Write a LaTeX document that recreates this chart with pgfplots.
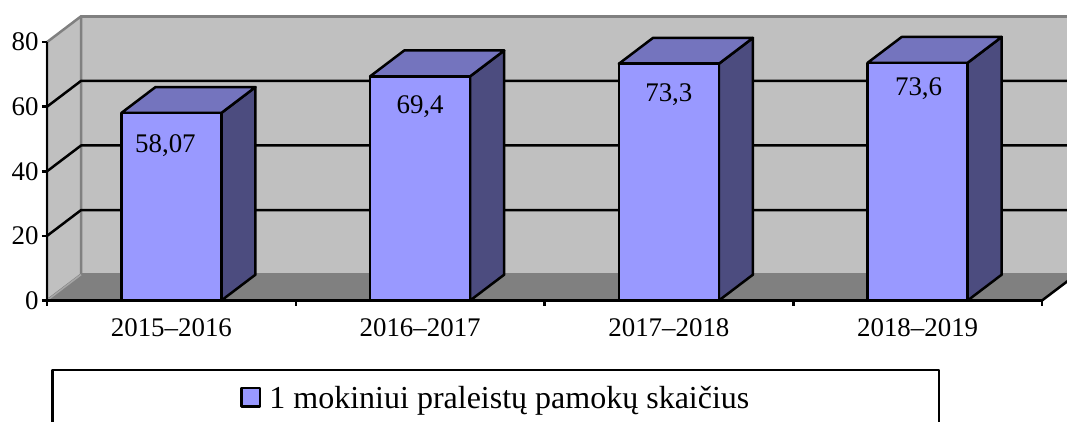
\documentclass[border=0pt]{standalone}
\usepackage{fontspec}
\setmainfont{Liberation Serif}
\usepackage{pgfplots}
\pgfplotsset{compat=1.18}

\definecolor{wall}{HTML}{C0C0C0}
\definecolor{floorc}{HTML}{808080}
\definecolor{edge}{HTML}{808080}
\definecolor{barfront}{HTML}{9999FF}
\definecolor{bartop}{HTML}{7474BE}
\definecolor{barside}{HTML}{4C4C7F}

\begin{document}
\begin{tikzpicture}[line join=round]
\begin{axis}[
    at={(47pt,120.5pt)}, anchor=south west,
    scale only axis, width=995pt, height=258.4pt,
    xmin=-0.5, xmax=3.5, ymin=0, ymax=80,
    clip=false, axis on top,
    axis x line=bottom, axis y line=left,
    axis line style={-, line width=2.5pt, black},
    tick style={line width=2.5pt, black},
    tick align=outside, major tick length=5pt,
    xtick={-0.5,0.5,1.5,2.5,3.5}, xticklabels={},
    extra x ticks={0,1,2,3},
    extra x tick labels={2015--2016,2016--2017,2017--2018,2018--2019},
    extra x tick style={major tick length=0pt, tick label style={yshift=-15pt}},
    ytick={0,20,40,60,80},
    /pgf/number format/assume math mode=true,
    tick label style={font=\fontsize{26.9}{30}\selectfont},
    legend style={at={(axis cs:-0.482,-21.2)}, anchor=north west,
        draw=black, line width=2.5pt, inner xsep=187.5pt, inner ysep=14pt,
        font=\fontsize{32}{35}\selectfont},
    legend image code/.code={
        \draw[fill=barfront, draw=black, line width=2.5pt] (0pt,-8.5pt) rectangle (18.5pt,10pt);
        \path[draw=none, fill=none] (0pt,0pt) -- (26pt,0pt);
    },
]
% walls and floor
\addplot[fill=wall, draw=edge, line width=2.5pt, forget plot] coordinates {(-0.363,8)(3.637,8)(3.637,88)(-0.363,88)} -- cycle;
\addplot[fill=wall, draw=edge, line width=2.5pt, forget plot] coordinates {(-0.5,0)(-0.363,8)(-0.363,88)(-0.5,80)} -- cycle;
\addplot[fill=floorc, draw=none, forget plot] coordinates {(-0.5,0)(3.5,0)(3.637,8)(-0.363,8)} -- cycle;
\addplot[draw=black!35, line width=1.5pt, forget plot] coordinates {(-0.5,0)(-0.363,8)};
\addplot[draw=black, line width=2.5pt, forget plot] coordinates {(3.5,0)(3.637,8)};
% gridlines
\addplot[draw=black, line width=2.5pt, forget plot] coordinates {(-0.5,20)(-0.363,28)(3.637,28)};
\addplot[draw=black, line width=2.5pt, forget plot] coordinates {(-0.5,40)(-0.363,48)(3.637,48)};
\addplot[draw=black, line width=2.5pt, forget plot] coordinates {(-0.5,60)(-0.363,68)(3.637,68)};
% bar sides and tops
\addplot[fill=barside, draw=black, line width=2.5pt, forget plot] coordinates {(0.201,0)(0.338,8)(0.338,66.07)(0.201,58.07)} -- cycle;
\addplot[fill=bartop, draw=black, line width=2.5pt, forget plot] coordinates {(-0.201,58.07)(0.201,58.07)(0.338,66.07)(-0.064,66.07)} -- cycle;
\addplot[fill=barside, draw=black, line width=2.5pt, forget plot] coordinates {(1.201,0)(1.338,8)(1.338,77.4)(1.201,69.4)} -- cycle;
\addplot[fill=bartop, draw=black, line width=2.5pt, forget plot] coordinates {(0.799,69.4)(1.201,69.4)(1.338,77.4)(0.936,77.4)} -- cycle;
\addplot[fill=barside, draw=black, line width=2.5pt, forget plot] coordinates {(2.201,0)(2.338,8)(2.338,81.3)(2.201,73.3)} -- cycle;
\addplot[fill=bartop, draw=black, line width=2.5pt, forget plot] coordinates {(1.799,73.3)(2.201,73.3)(2.338,81.3)(1.936,81.3)} -- cycle;
\addplot[fill=barside, draw=black, line width=2.5pt, forget plot] coordinates {(3.201,0)(3.338,8)(3.338,81.6)(3.201,73.6)} -- cycle;
\addplot[fill=bartop, draw=black, line width=2.5pt, forget plot] coordinates {(2.799,73.6)(3.201,73.6)(3.338,81.6)(2.936,81.6)} -- cycle;
% bar fronts
\addplot[ybar, bar width=100pt, fill=barfront, draw=black, line width=2.5pt] coordinates {(0,58.07)(1,69.4)(2,73.3)(3,73.6)};
\addlegendentry{1 mokiniui praleistų pamokų skaičius}
% value labels
\node[font=\fontsize{26.9}{30}\selectfont] at (axis cs:-0.024,48) {58,07};
\node[font=\fontsize{26.9}{30}\selectfont] at (axis cs:1,60) {69,4};
\node[font=\fontsize{26.9}{30}\selectfont] at (axis cs:2,63.6) {73,3};
\node[font=\fontsize{26.9}{30}\selectfont] at (axis cs:3.004,65.5) {73,6};
\end{axis}
\pgfresetboundingbox
\path[use as bounding box] (0,0) rectangle (1067pt,421pt);
\end{tikzpicture}
\end{document}
